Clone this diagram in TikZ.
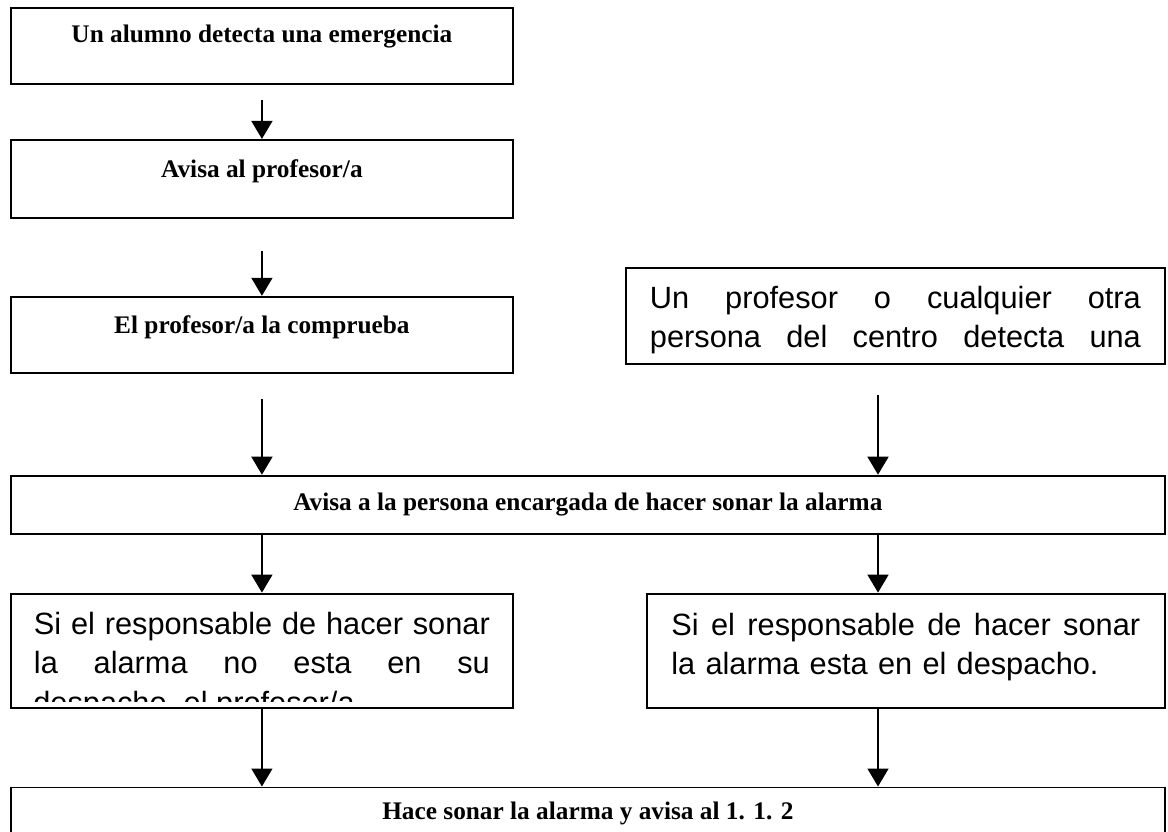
\documentclass[tikz,border=0pt]{standalone}
\usepackage{fontspec}
\setmainfont{Liberation Serif}
\setsansfont{Liberation Sans}
\usetikzlibrary{positioning, arrows.meta}
\newcommand{\linea}[1]{\hbox to \hsize{\spaceskip=0.28em plus 10em\relax #1}}

\begin{document}
\begin{tikzpicture}[x=0.02cm, y=-0.02cm]
\tikzstyle{caja}=[rectangle, draw=black, line width=1.1pt, inner sep=0pt, anchor=north west]
\tikzstyle{negrita}=[font=\fontsize{14.4}{17}\selectfont\bfseries]
\tikzstyle{texto}=[font=\sffamily\fontsize{17.5}{21.9}\selectfont, align=left]
\tikzstyle{flecha}=[line width=0.9pt, -{Triangle[length=0.36cm, width=0.42cm]}]
\useasboundingbox (0,0) rectangle (1168,831);
\coordinate (colder) at (878,0);
\node[caja, negrita, minimum width=10.04cm, text height=0.70cm, text depth=0.82cm] (alumno) at (10,7) {Un alumno detecta una emergencia};
\node[caja, negrita, below=1.08cm of alumno, minimum width=10.04cm, text height=0.76cm, text depth=0.80cm] (aviso) {Avisa al profesor/a};
\node[caja, negrita, below=1.54cm of aviso, minimum width=10.04cm, text height=0.74cm, text depth=0.78cm] (comprueba) {El profesor/a la comprueba};
\node[caja, texto, text width=9.82cm, inner xsep=0.48cm, text height=0.82cm, text depth=1.10cm] (otro) at (625,267) {\linea{Un profesor o cualquier otra}\\ \linea{persona del centro detecta una}};
\node[caja, negrita, below=2.02cm of comprueba.south west, anchor=north west, minimum width=23.08cm, minimum height=1.16cm] (encargada) {Avisa a la persona encargada de hacer sonar la alarma};
\node[caja, texto, below=1.16cm of encargada.south west, anchor=north west, minimum width=10.04cm, text width=9.12cm, text height=0.82cm, text depth=1.46cm] (noesta) {\linea{Si el responsable de hacer sonar}\\ \linea{la alarma no esta en su}};
\node[caja, texto, below=1.16cm of encargada.south east, anchor=north east, minimum width=10.36cm, text width=9.38cm, text height=0.84cm, text depth=1.44cm] (siesta) {\linea{Si el responsable de hacer sonar}\\ la alarma esta en el despacho.};
\node[caja, negrita, below=1.56cm of noesta.south west, anchor=north west, minimum width=23.08cm, minimum height=1.04cm] (hace) {Hace sonar la alarma y avisa al 1. 1. 2};
\begin{scope}
\clip (noesta.north west) rectangle ([yshift=0.14cm]noesta.south east);
\node[texto, anchor=base west, inner sep=0pt] (noesta3) at ([xshift=0.46cm, yshift=-2.42cm]noesta.north west) {despacho, el profesor/a};
\end{scope}
\draw[flecha, shorten <=0.30cm] (alumno) -- (aviso);
\draw[flecha, shorten <=0.64cm] (aviso) -- (comprueba);
\draw[flecha, shorten <=0.50cm] (comprueba.south) -- (comprueba.south |- encargada.north);
\draw[flecha, shorten <=0.60cm] (otro.south -| colder) -- (encargada.north -| colder);
\draw[flecha] (noesta.north |- encargada.south) -- (noesta.north);
\draw[flecha] (encargada.south -| colder) -- (siesta.north -| colder);
\draw[flecha] (noesta.south) -- (noesta.south |- hace.north);
\draw[flecha] (siesta.south -| colder) -- (hace.north -| colder);
\end{tikzpicture}
\end{document}
